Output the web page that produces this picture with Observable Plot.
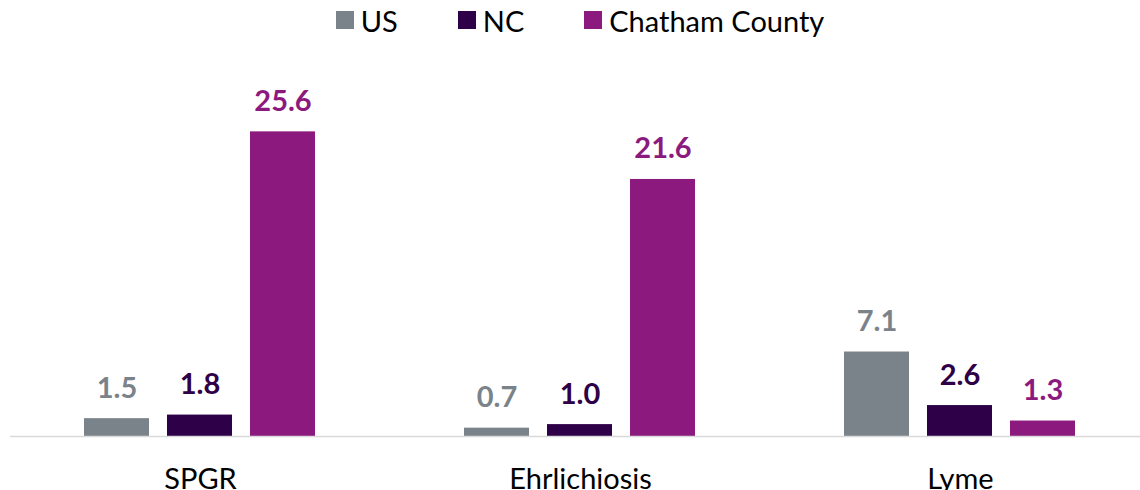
<!DOCTYPE html>
<html>
<head>
<meta charset="utf-8">
<script src="https://cdn.jsdelivr.net/npm/d3@7"></script>
<script src="https://cdn.jsdelivr.net/npm/@observablehq/plot@0.6"></script>
<style>
  html, body { margin: 0; padding: 0; background: #fff; }
  body { width: 1140px; height: 490px; overflow: hidden; font-family: Lato, sans-serif; }
  #legend { height: 40px; display: flex; justify-content: center; align-items: center; padding-left: 20px; box-sizing: border-box; font-size: 29px; color: #000; }
  .item { display: flex; align-items: center; margin: 0 30px; }
  .sw { width: 18px; height: 18px; margin-right: 7px; }
  #chart svg { display: block; }
</style>
</head>
<body>
<div id="legend"></div>
<div id="chart"></div>
<script>
const categories = ["SPGR", "Ehrlichiosis", "Lyme"];
const series = ["US", "NC", "Chatham County"];
const usValues = [1.5, 0.7, 7.1];
const ncValues = [1.8, 1.0, 2.6];
const chathamValues = [25.6, 21.6, 1.3];
const colors = ["#7b838a", "#2d0047", "#8c1a7e"];

const valuesBySeries = [usValues, ncValues, chathamValues];
const data = categories.flatMap((c, i) =>
  series.map((s, j) => ({ category: c, series: s, value: valuesBySeries[j][i] }))
);

const legend = document.getElementById("legend");
series.forEach((s, j) => {
  const it = document.createElement("div");
  it.className = "item";
  const sw = document.createElement("div");
  sw.className = "sw";
  sw.style.background = colors[j];
  const t = document.createElement("span");
  t.textContent = s;
  it.appendChild(sw);
  it.appendChild(t);
  legend.appendChild(it);
});

const chart = Plot.plot({
  width: 1140,
  height: 450,
  marginLeft: 10,
  marginRight: -10,
  marginTop: 39,
  marginBottom: 54,
  fx: { domain: categories, padding: 0, axis: "bottom", label: null, tickSize: 0, tickPadding: 32 },
  x: { domain: series, axis: null, paddingInner: 0.214, paddingOuter: 0.869 },
  y: { domain: [0, 30], axis: null },
  color: { domain: series, range: colors },
  style: { fontFamily: "Lato, sans-serif", fontSize: "29px", color: "#000", background: "white", overflow: "visible" },
  marks: [
    Plot.barY(data, { fx: "category", x: "series", y: "value", fill: "series" }),
    Plot.ruleY([0], { stroke: "#d9d9d9", strokeWidth: 1.5 }),
    Plot.text(data, {
      fx: "category", x: "series", y: "value",
      text: d => d.value.toFixed(1),
      fill: "series", fontWeight: "bold", fontSize: 29,
      lineAnchor: "bottom", dy: -21
    })
  ]
});
document.getElementById("chart").appendChild(chart);
</script>
</body>
</html>
